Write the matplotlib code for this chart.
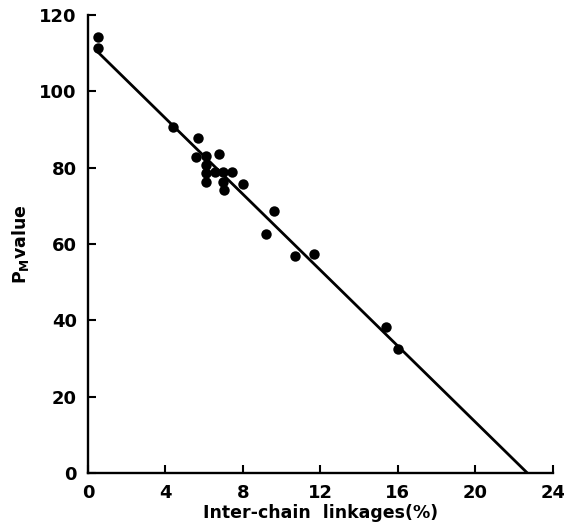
import matplotlib
matplotlib.use("Agg")
import matplotlib.pyplot as plt
import numpy as np

# Data
linkages = [0.5, 0.5, 4.4, 5.7, 5.6, 6.1, 6.75, 6.1, 6.1, 6.1, 6.55, 6.95,
            7.45, 6.95, 7.0, 8.0, 9.6, 9.2, 10.7, 11.65, 15.4, 16.0]
pm_value = [114.2, 111.3, 90.6, 87.8, 82.8, 83.0, 83.6, 80.7, 78.6, 76.2, 78.9, 78.9,
            78.9, 76.2, 74.1, 75.7, 68.6, 62.6, 56.9, 57.4, 38.2, 32.5]

fit_x = [0.5, 22.7]
fit_intercept = 112.8
fit_slope = -4.97

x_ticks = [0, 4, 8, 12, 16, 20, 24]
y_ticks = [0, 20, 40, 60, 80, 100, 120]

plt.rcParams['font.family'] = ['DejaVu Sans']
plt.rcParams['font.weight'] = 'bold'

fig = plt.figure(figsize=(5.64, 5.31), dpi=100)
ax = fig.add_axes([0.156, 0.109, 0.824, 0.863])

fx = np.array(fit_x)
ax.plot(fx, fit_intercept + fit_slope * fx, color='black', lw=2.0, solid_capstyle='butt')
ax.plot(linkages, pm_value, 'o', color='black', markersize=7.5, markeredgewidth=0)

ax.set_xlim(0, 24)
ax.set_ylim(0, 120)
ax.set_xticks(x_ticks)
ax.set_yticks(y_ticks)
ax.set_xticklabels([str(t) for t in x_ticks], fontsize=13, fontweight='bold')
ax.set_yticklabels([str(t) for t in y_ticks], fontsize=13, fontweight='bold')

for s in ['top', 'right']:
    ax.spines[s].set_visible(False)
for s in ['left', 'bottom']:
    ax.spines[s].set_linewidth(1.7)

ax.tick_params(direction='in', length=6, width=1.5, pad=8)

ax.set_xlabel('Inter-chain  linkages(%)', fontsize=12.5, fontweight='bold', labelpad=1)
ax.set_ylabel(r'$\mathbf{P_M}$value', fontsize=12.5, fontweight='bold', labelpad=6)

fig.savefig('out.png', dpi=100)
